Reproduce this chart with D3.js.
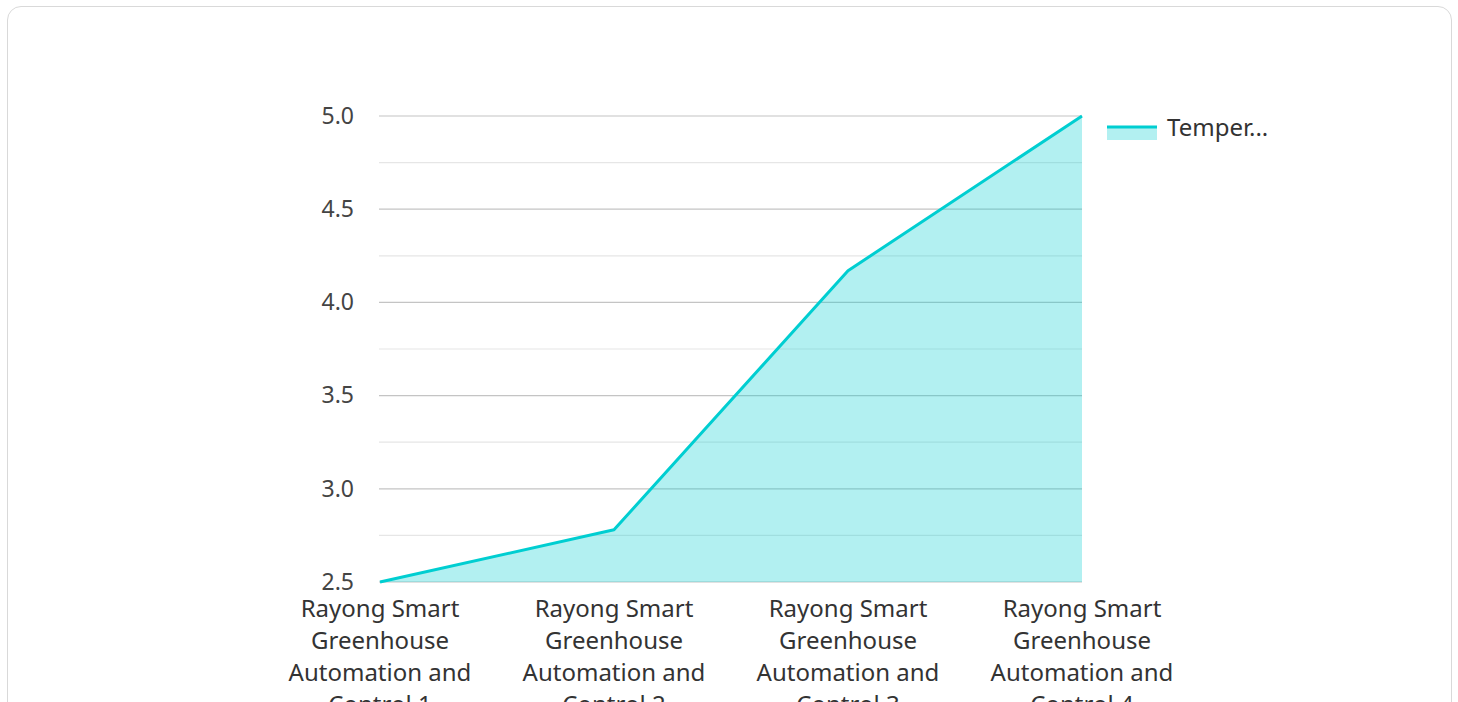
<!DOCTYPE html>
<html>
<head>
<meta charset="utf-8">
<script src="https://cdn.jsdelivr.net/npm/d3@7"></script>
<style>
  html, body { margin: 0; padding: 0; background: #fff; overflow: hidden; }
  body { width: 1458px; height: 702px; font-family: "Noto Sans", sans-serif; }
  .card {
    position: absolute; left: 7px; top: 6px; width: 1445px; height: 720px;
    border: 1.5px solid #d9d9d9; border-radius: 14px; box-sizing: border-box;
  }
  svg { position: absolute; left: 0; top: 0; }
</style>
</head>
<body>
<div class="card"></div>
<svg id="chart" width="1458" height="702"></svg>
<script>
// ── Data ─────────────────────────────────────────
const categories = [
  'Rayong Smart Greenhouse Automation and Control 1',
  'Rayong Smart Greenhouse Automation and Control 2',
  'Rayong Smart Greenhouse Automation and Control 3',
  'Rayong Smart Greenhouse Automation and Control 4'
];
const temperature = [2.5, 2.78, 4.17, 5.0];
const yTicks = [2.5, 3.0, 3.5, 4.0, 4.5, 5.0];
const yMinorTicks = [2.75, 3.25, 3.75, 4.25, 4.75];
const seriesName = 'Temperature';

// ── Layout ───────────────────────────────────────
const margin = { left: 380, right: 376, top: 116, bottom: 120 };
const W = 1458, H = 702;
const lineColor = '#00CED1';
const fontSize = 24;

const svg = d3.select('#chart');

const x = d3.scalePoint()
  .domain(categories)
  .range([margin.left, W - margin.right]);

const y = d3.scaleLinear()
  .domain([2.5, 5.0])
  .range([H - margin.bottom, margin.top]);

// ── Grid ─────────────────────────────────────────
svg.append('g')
  .selectAll('line.minor')
  .data(yMinorTicks)
  .join('line')
  .attr('x1', margin.left - 1)
  .attr('x2', W - margin.right)
  .attr('y1', d => y(d))
  .attr('y2', d => y(d))
  .attr('stroke', '#e6e6e6')
  .attr('stroke-width', 1.2);

svg.append('g')
  .selectAll('line.major')
  .data(yTicks)
  .join('line')
  .attr('x1', margin.left - 1)
  .attr('x2', W - margin.right)
  .attr('y1', d => y(d))
  .attr('y2', d => y(d))
  .attr('stroke', '#c4c4c4')
  .attr('stroke-width', 1.2);

// ── Y axis labels ────────────────────────────────
const yAxis = d3.axisLeft(y)
  .tickValues(yTicks)
  .tickFormat(d3.format('.1f'))
  .tickSize(0)
  .tickPadding(26);

svg.append('g')
  .attr('transform', `translate(${margin.left},0)`)
  .call(yAxis)
  .call(g => g.select('.domain').remove())
  .call(g => g.selectAll('text')
    .attr('font-family', '"Noto Sans", sans-serif')
    .attr('font-size', fontSize - 1)
    .attr('fill', '#444'));

// ── Area + line ──────────────────────────────────
const pts = categories.map((c, i) => ({ c, v: temperature[i] }));

const area = d3.area()
  .x(d => x(d.c))
  .y0(y(2.5))
  .y1(d => y(d.v));

const line = d3.line()
  .x(d => x(d.c))
  .y(d => y(d.v));

svg.append('path')
  .datum(pts)
  .attr('d', area)
  .attr('fill', lineColor)
  .attr('fill-opacity', 0.3);

svg.append('path')
  .datum(pts)
  .attr('d', line)
  .attr('fill', 'none')
  .attr('stroke', lineColor)
  .attr('stroke-width', 3)
  .attr('stroke-linejoin', 'round');

// ── X axis labels (wrapped) ──────────────────────
function wrapWords(str, maxW, measure) {
  const words = str.split(' ');
  const lines = [];
  let cur = '';
  words.forEach(w => {
    const test = cur ? cur + ' ' + w : w;
    if (measure(test) > maxW && cur) { lines.push(cur); cur = w; }
    else cur = test;
  });
  if (cur) lines.push(cur);
  return lines;
}

const measurer = svg.append('text')
  .attr('font-family', '"Noto Sans", sans-serif')
  .attr('font-size', fontSize)
  .attr('visibility', 'hidden');
const measure = s => { measurer.text(s); return measurer.node().getComputedTextLength(); };

const xLabels = svg.append('g');
categories.forEach(c => {
  const lines = wrapWords(c, 205, measure);
  const t = xLabels.append('text')
    .attr('x', x(c))
    .attr('y', H - margin.bottom + 35)
    .attr('text-anchor', 'middle')
    .attr('font-family', '"Noto Sans", sans-serif')
    .attr('font-size', fontSize)
    .attr('fill', '#333');
  lines.forEach((l, i) => {
    t.append('tspan')
      .attr('x', x(c))
      .attr('dy', i === 0 ? 0 : 32)
      .text(l);
  });
});
measurer.remove();

// ── Legend ───────────────────────────────────────
const lg = svg.append('g').attr('transform', `translate(${W - margin.right + 25},${margin.top + 11})`);
lg.append('rect')
  .attr('x', 0).attr('y', 0)
  .attr('width', 50).attr('height', 13)
  .attr('fill', lineColor).attr('fill-opacity', 0.3);
lg.append('line')
  .attr('x1', 0).attr('x2', 50)
  .attr('y1', 0).attr('y2', 0)
  .attr('stroke', lineColor).attr('stroke-width', 3);
lg.append('text')
  .attr('x', 60).attr('y', 9)
  .attr('font-family', '"Noto Sans", sans-serif')
  .attr('font-size', fontSize)
  .attr('fill', '#333')
  .text(seriesName.slice(0, 6) + '...');
</script>
</body>
</html>
